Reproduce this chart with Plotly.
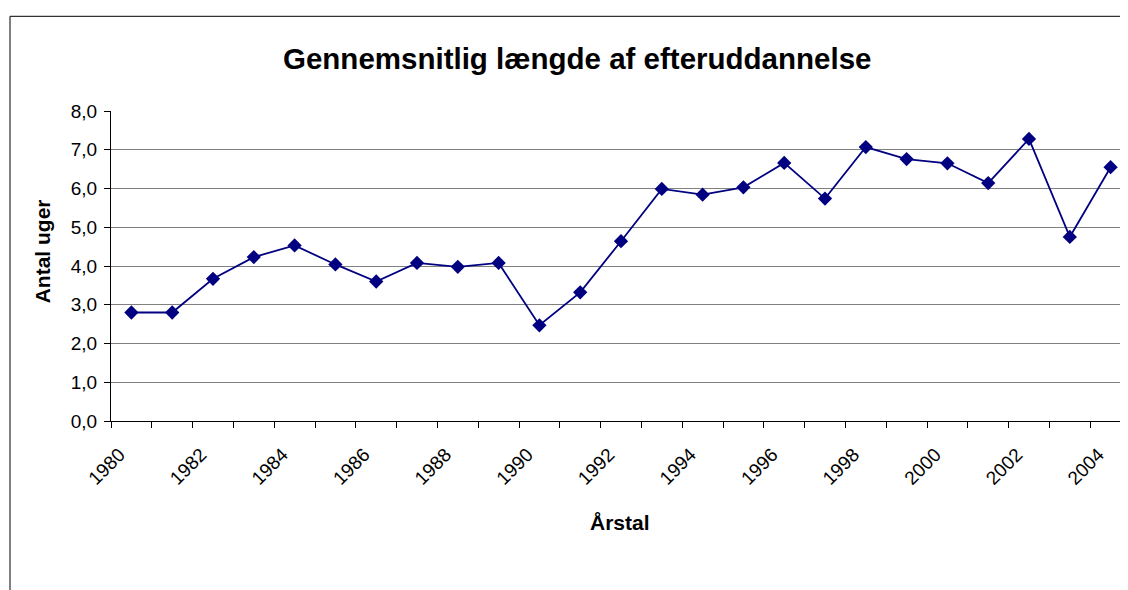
import plotly.graph_objects as go

years = list(range(1980, 2005))
values = [2.8, 2.8, 3.67, 4.23, 4.53, 4.04, 3.6, 4.08, 3.98, 4.08,
          2.47, 3.32, 4.64, 5.99, 5.84, 6.03, 6.66, 5.74, 7.07, 6.76,
          6.65, 6.14, 7.28, 4.75, 6.55]
label_years = list(range(1980, 2005, 2))
y_ticks = [0, 1, 2, 3, 4, 5, 6, 7, 8]
y_labels = ["0,0", "1,0", "2,0", "3,0", "4,0", "5,0", "6,0", "7,0", "8,0"]

title_text = "Gennemsnitlig længde af efteruddannelse"
x_title = "Årstal"
y_title = "Antal uger"

FONT = "Arial, Liberation Sans, sans-serif"

OFF = 8  # page body margin
W, H = 1128 - OFF, 590 - OFF
# plot area in page coordinates
PL, PR, PT, PB = 111, 1128, 110.7, 420.7
L = PL - OFF
R = 1128 - PR
T = PT - OFF
B = 590 - PB
pw = W - L - R
ph = H - T - B

def px_x(px):
    return (px - PL) / pw

def px_y(py):
    return (PB - py) / ph

fig = go.Figure()
fig.add_trace(go.Scatter(
    x=years, y=values, mode="lines+markers",
    line=dict(color="#000080", width=1.8),
    marker=dict(symbol="diamond", size=11, color="#000080"),
    showlegend=False, cliponaxis=False,
))

fig.update_layout(
    width=W, height=H,
    margin=dict(l=L, r=R, t=T, b=B, pad=0),
    paper_bgcolor="white", plot_bgcolor="white",
    font=dict(family=FONT, color="black", size=19),
    xaxis=dict(
        range=[1979.5, 1979.5 + pw / 40.8],
        tickvals=label_years, ticktext=[str(y) for y in label_years],
        tickangle=-45, ticks="", showgrid=False,
        showline=True, linecolor="black", linewidth=1,
        tickfont=dict(size=19, family=FONT),
        ticklabelstandoff=14, ticklabelshift=-12,
        minor=dict(tickvals=[y - 0.5 for y in years] + [2004.5], ticks="outside",
                   ticklen=6, tickcolor="black", showgrid=False),
        zeroline=False, fixedrange=True,
    ),
    yaxis=dict(
        range=[0, 8], tickvals=y_ticks, ticktext=y_labels,
        ticks="outside", ticklen=6, tickcolor="black",
        showgrid=True, gridcolor="#808080", gridwidth=1,
        showline=True, linecolor="black", linewidth=1,
        tickfont=dict(size=19, family=FONT),
        ticklabelstandoff=3,
        zeroline=False, fixedrange=True,
    ),
    annotations=[
        dict(text="<b>" + title_text + "</b>", xref="paper", yref="paper",
             x=px_x(577), y=px_y(58), xanchor="center", yanchor="middle",
             showarrow=False, font=dict(size=29.5, family=FONT, color="black")),
        dict(text="<b>" + x_title + "</b>", xref="paper", yref="paper",
             x=px_x(620), y=px_y(522), xanchor="center", yanchor="middle",
             showarrow=False, font=dict(size=21, family=FONT, color="black")),
        dict(text="<b>" + y_title + "</b>", xref="paper", yref="paper",
             x=px_x(42), y=px_y(251), xanchor="center", yanchor="middle",
             textangle=-90, showarrow=False,
             font=dict(size=21, family=FONT, color="black")),
    ],
    shapes=[
        dict(type="path", xref="paper", yref="paper",
             path=f"M {px_x(1140)} {px_y(16)} L {px_x(10)} {px_y(16)} L {px_x(10)} {px_y(600)}",
             line=dict(color="black", width=1)),
    ],
)

fig.write_html("out.html")
